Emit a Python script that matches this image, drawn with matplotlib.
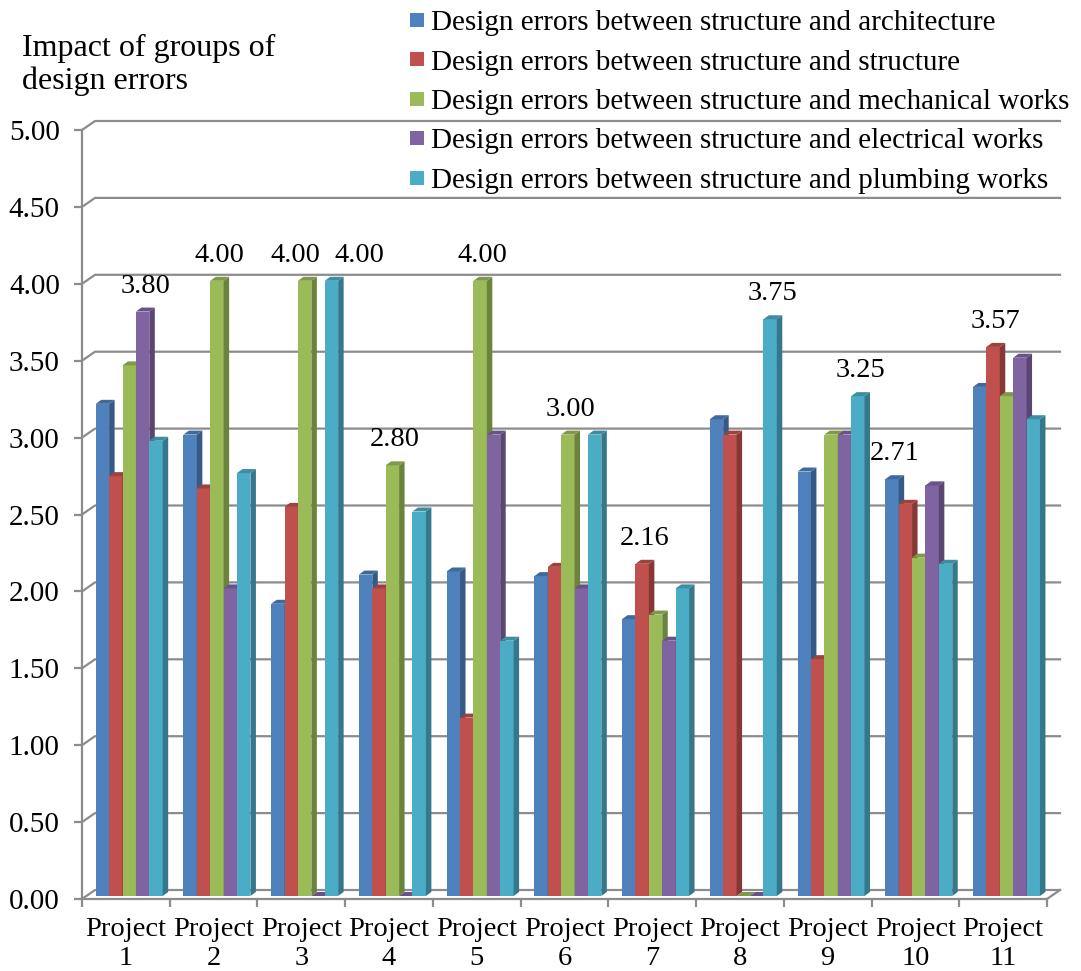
import numpy as np
import matplotlib.pyplot as plt
import matplotlib.colors as mcolors
from matplotlib.patches import Polygon, Rectangle

plt.rcParams['font.family'] = ['Liberation Serif', 'DejaVu Serif']

projects = ['Project\n1', 'Project\n2', 'Project\n3', 'Project\n4', 'Project\n5', 'Project\n6',
            'Project\n7', 'Project\n8', 'Project\n9', 'Project\n10', 'Project\n11']
series_names = ['Design errors between structure and architecture',
                'Design errors between structure and structure',
                'Design errors between structure and mechanical works',
                'Design errors between structure and electrical works',
                'Design errors between structure and plumbing works']
architecture = [3.20, 3.00, 1.90, 2.09, 2.11, 2.08, 1.80, 3.10, 2.76, 2.71, 3.31]
structure = [2.73, 2.65, 2.53, 2.00, 1.16, 2.14, 2.16, 3.00, 1.54, 2.55, 3.57]
mechanical = [3.45, 4.00, 4.00, 2.80, 4.00, 3.00, 1.83, 0.00, 3.00, 2.20, 3.25]
electrical = [3.80, 2.00, 0.00, 0.00, 3.00, 2.00, 1.66, 0.00, 3.00, 2.67, 3.50]
plumbing = [2.96, 2.75, 4.00, 2.50, 1.66, 3.00, 2.00, 3.75, 3.25, 2.16, 3.10]
# (project index, series index) of the bars that carry a value label
labelled = [(0, 3), (1, 2), (2, 2), (2, 4), (3, 2), (4, 2), (5, 2), (6, 1), (7, 4), (8, 4), (9, 0), (10, 1)]

values = np.array([architecture, structure, mechanical, electrical, plumbing])
colors = ['#4F81BD', '#C0504D', '#9BBB59', '#8064A2', '#4BACC6']


def shade(c, f):
    r, g, b = mcolors.to_rgb(c)
    return (r * f, g * f, b * f)


W, H = 1081, 971
fig = plt.figure(figsize=(W / 100, H / 100), dpi=100)
ax = fig.add_axes([82 / W, (H - 899) / H, (1047 - 82) / W, (899 - 130) / H])
n = len(projects)
ax.set_xlim(0, n)
ax.set_ylim(0, 5)

# pixel -> data conversion for the fake 3d depth
px_x = n / (1047 - 82)
px_y = 5 / (899 - 130)
back_dx, back_dy = 13 * px_x, 9 * px_y
bar_ox, bar_oy = 4.5 * px_x, 3 * px_y
bar_dx, bar_dy = 5.5 * px_x, 4 * px_y

grid_col = '#8C8C8C'
# back wall gridlines with the short slanted piece on the side wall
for y in np.arange(0, 5.01, 0.5):
    ax.plot([0, back_dx, n + back_dx], [y, y + back_dy, y + back_dy],
            color=grid_col, lw=1.6, clip_on=False, zorder=1)
# right edge of the floor
ax.plot([n, n + back_dx], [0, back_dy], color=grid_col, lw=1.6, clip_on=False, zorder=1)

w = 0.1527
x0 = np.arange(n) + 0.105
for k in range(5):
    xs = x0 + k * w + bar_ox
    ax.bar(xs, values[k], width=w, bottom=bar_oy, align='edge', color=colors[k],
           linewidth=0, zorder=3 + k, clip_on=False)
    for xl, v in zip(xs, values[k]):
        xr = xl + w
        yt = v + bar_oy
        side = Polygon([(xr, bar_oy), (xr + bar_dx, bar_oy + bar_dy), (xr + bar_dx, yt + bar_dy), (xr, yt)],
                       closed=True, facecolor=shade(colors[k], 0.7), edgecolor='none', zorder=3 + k, clip_on=False)
        top = Polygon([(xl, yt), (xl + bar_dx, yt + bar_dy), (xr + bar_dx, yt + bar_dy), (xr, yt)],
                      closed=True, facecolor=shade(colors[k], 0.82), edgecolor='none', zorder=3 + k, clip_on=False)
        ax.add_patch(side)
        ax.add_patch(top)

# value labels, two of them nudged apart so they do not collide
nudge = {(2, 2): -12, (2, 4): 25}
for p, k in labelled:
    v = values[k][p]
    xc = x0[p] + k * w + bar_ox + w / 2 + bar_dx / 2
    ax.annotate(f'{v:.2f}', xy=(xc, v + bar_oy), xytext=(nudge.get((p, k), 0), 19),
                textcoords='offset pixels', ha='center', va='baseline', fontsize=20.5,
                annotation_clip=False, zorder=20)

for s in ['top', 'right']:
    ax.spines[s].set_visible(False)
for s in ['left', 'bottom']:
    ax.spines[s].set_color(grid_col)
    ax.spines[s].set_linewidth(1.6)
    ax.spines[s].set_zorder(2)

ax.set_yticks(np.arange(0, 5.01, 0.5))
ax.set_yticklabels([f'{t:.2f}' for t in np.arange(0, 5.01, 0.5)], fontsize=21)
ax.tick_params(axis='y', length=6, width=1.6, color=grid_col, pad=10)
ax.set_xticks(np.arange(0, n + 1))
ax.set_xticklabels([])
ax.set_xticks(np.arange(n) + 0.5, minor=True)
ax.set_xticklabels(projects, minor=True, fontsize=20.5, linespacing=1.22)
ax.tick_params(axis='x', which='major', length=6, width=1.6, color=grid_col)
ax.tick_params(axis='x', which='minor', length=0, pad=13)

fig.text(22 / W, 1 - 34 / H, 'Impact of groups of\ndesign errors', fontsize=23,
         ha='left', va='top', linespacing=1.15)

# legend drawn by hand
for k, name in enumerate(series_names):
    yc = 20 + k * 39.5
    fig.patches.append(Rectangle((410 / W, 1 - (yc + 7) / H), 14 / W, 14 / H,
                                 transform=fig.transFigure, facecolor=colors[k], edgecolor='none'))
    fig.text(431 / W, 1 - yc / H, name, fontsize=21, ha='left', va='center_baseline')

fig.savefig('out.png', dpi=100)
